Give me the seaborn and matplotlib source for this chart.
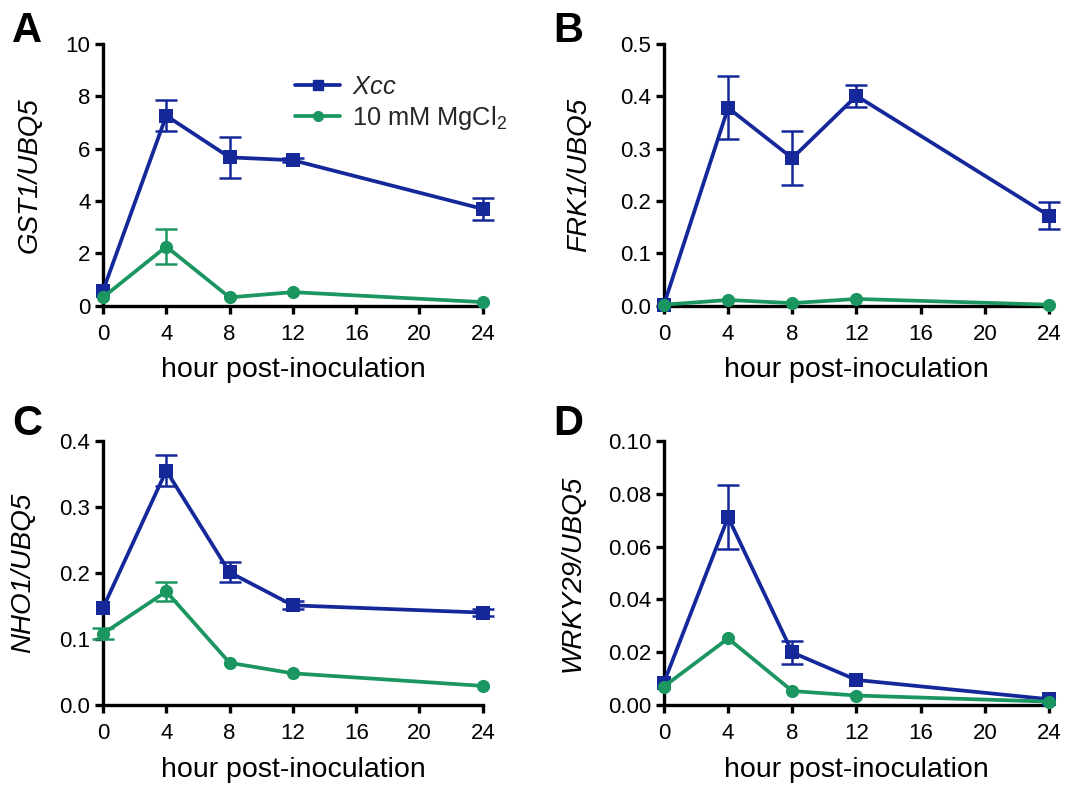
import matplotlib
matplotlib.use("Agg")
import matplotlib.pyplot as plt
import seaborn as sns
import pandas as pd
from matplotlib.lines import Line2D

sns.set_theme(style="ticks")
plt.rcParams['font.family'] = ['Liberation Sans', 'DejaVu Sans']
plt.rcParams['mathtext.fontset'] = 'custom'
plt.rcParams['mathtext.rm'] = 'Liberation Sans'
plt.rcParams['mathtext.it'] = 'Liberation Sans:italic'

hours = [0, 4, 8, 12, 24]
xticks = [0, 4, 8, 12, 16, 20, 24]

# Panel A: GST1/UBQ5
gst1_xcc = [0.57, 7.26, 5.67, 5.56, 3.70]
gst1_xcc_err = [0.0, 0.60, 0.79, 0.08, 0.41]
gst1_mg = [0.32, 2.26, 0.32, 0.52, 0.14]
gst1_mg_err = [0.0, 0.68, 0.0, 0.0, 0.0]

# Panel B: FRK1/UBQ5
frk1_xcc = [0.002, 0.378, 0.282, 0.401, 0.172]
frk1_xcc_err = [0.0, 0.060, 0.052, 0.021, 0.026]
frk1_mg = [0.002, 0.011, 0.005, 0.013, 0.002]
frk1_mg_err = [0.0, 0.0, 0.0, 0.0, 0.0]

# Panel C: NHO1/UBQ5
nho1_xcc = [0.147, 0.355, 0.201, 0.151, 0.140]
nho1_xcc_err = [0.0, 0.023, 0.015, 0.006, 0.005]
nho1_mg = [0.108, 0.172, 0.064, 0.048, 0.029]
nho1_mg_err = [0.008, 0.015, 0.0, 0.0, 0.0]

# Panel D: WRKY29/UBQ5
wrky_xcc = [0.0085, 0.0711, 0.0199, 0.0095, 0.0022]
wrky_xcc_err = [0.0, 0.0121, 0.0044, 0.0, 0.0]
wrky_mg = [0.0070, 0.0252, 0.0053, 0.0036, 0.0013]
wrky_mg_err = [0.0, 0.0, 0.0, 0.0, 0.0]

series_names = ["Xcc", "10 mM MgCl2"]
legend_labels = [r"$\it{Xcc}$", r"10 mM MgCl$_2$"]
blue = "#15289a"
green = "#1b9660"

panels = [
    ("A", "GST1/UBQ5", gst1_xcc, gst1_xcc_err, gst1_mg, gst1_mg_err, [0, 2, 4, 6, 8, 10], "{:.0f}"),
    ("B", "FRK1/UBQ5", frk1_xcc, frk1_xcc_err, frk1_mg, frk1_mg_err, [0, 0.1, 0.2, 0.3, 0.4, 0.5], "{:.1f}"),
    ("C", "NHO1/UBQ5", nho1_xcc, nho1_xcc_err, nho1_mg, nho1_mg_err, [0, 0.1, 0.2, 0.3, 0.4], "{:.1f}"),
    ("D", "WRKY29/UBQ5", wrky_xcc, wrky_xcc_err, wrky_mg, wrky_mg_err, [0, 0.02, 0.04, 0.06, 0.08, 0.10], "{:.2f}"),
]

fig = plt.figure(figsize=(10.76, 7.86), dpi=100)
positions = [
    [0.0957, 0.611, 0.353, 0.333],
    [0.617, 0.611, 0.358, 0.333],
    [0.0957, 0.103, 0.353, 0.336],
    [0.617, 0.103, 0.358, 0.336],
]
letter_pos = [(0.011, 0.986), (0.514, 0.986), (0.011, 0.486), (0.514, 0.486)]
ylabel_x = [-0.16, -0.187, -0.176, -0.203]

for i, (letter, ylab, xcc, xcc_e, mg, mg_e, yt, fmt) in enumerate(panels):
    ax = fig.add_axes(positions[i])
    df = pd.DataFrame({
        "hour": hours * 2,
        "value": list(xcc) + list(mg),
        "treatment": [series_names[0]] * 5 + [series_names[1]] * 5,
    })
    for vals, err, col in [(xcc, xcc_e, blue), (mg, mg_e, green)]:
        sel = [k for k in range(len(hours)) if err[k] > 0]
        if sel:
            ax.errorbar([hours[k] for k in sel], [vals[k] for k in sel],
                        yerr=[err[k] for k in sel], fmt="none", ecolor=col,
                        elinewidth=1.8, capsize=8, capthick=1.8, clip_on=False, zorder=3)
    sns.lineplot(data=df, x="hour", y="value", hue="treatment", style="treatment",
                 palette={series_names[0]: blue, series_names[1]: green},
                 markers={series_names[0]: "s", series_names[1]: "o"},
                 dashes=False, linewidth=2.7, markersize=9.5, markeredgewidth=0,
                 ax=ax, legend=False, clip_on=False, zorder=4)
    ax.set_xlim(0, 24)
    ax.set_ylim(yt[0], yt[-1])
    ax.set_xticks(xticks)
    ax.set_xticklabels([str(t) for t in xticks])
    ax.set_yticks(yt)
    ax.set_yticklabels([fmt.format(v) for v in yt])
    sns.despine(ax=ax)
    for s in ["left", "bottom"]:
        ax.spines[s].set_linewidth(2.4)
        ax.spines[s].set_color("black")
    ax.tick_params(axis="both", direction="out", length=6, width=2.4, labelsize=16,
                   colors="black")
    ax.tick_params(axis="x", pad=7)
    ax.tick_params(axis="y", pad=3)
    ax.set_xlabel("hour post-inoculation", fontsize=20.5, labelpad=9, color="black")
    ax.set_ylabel(ylab, fontsize=20, style="italic", color="black")
    ax.yaxis.set_label_coords(ylabel_x[i], 0.5)
    fig.text(letter_pos[i][0], letter_pos[i][1], letter, fontsize=30, fontweight="bold",
             va="top", ha="left", color="black")
    if i == 0:
        handles = [Line2D([], [], color=blue, marker="s", markersize=7, linewidth=2.7),
                   Line2D([], [], color=green, marker="o", markersize=7, linewidth=2.7)]
        ax.legend(handles, legend_labels, loc="upper left", bbox_to_anchor=(0.478, 0.922),
                  frameon=False, fontsize=18.3, handlelength=1.8, handletextpad=0.45,
                  labelspacing=0.2, borderaxespad=0)

fig.savefig("out.png", dpi=100, facecolor="white")
